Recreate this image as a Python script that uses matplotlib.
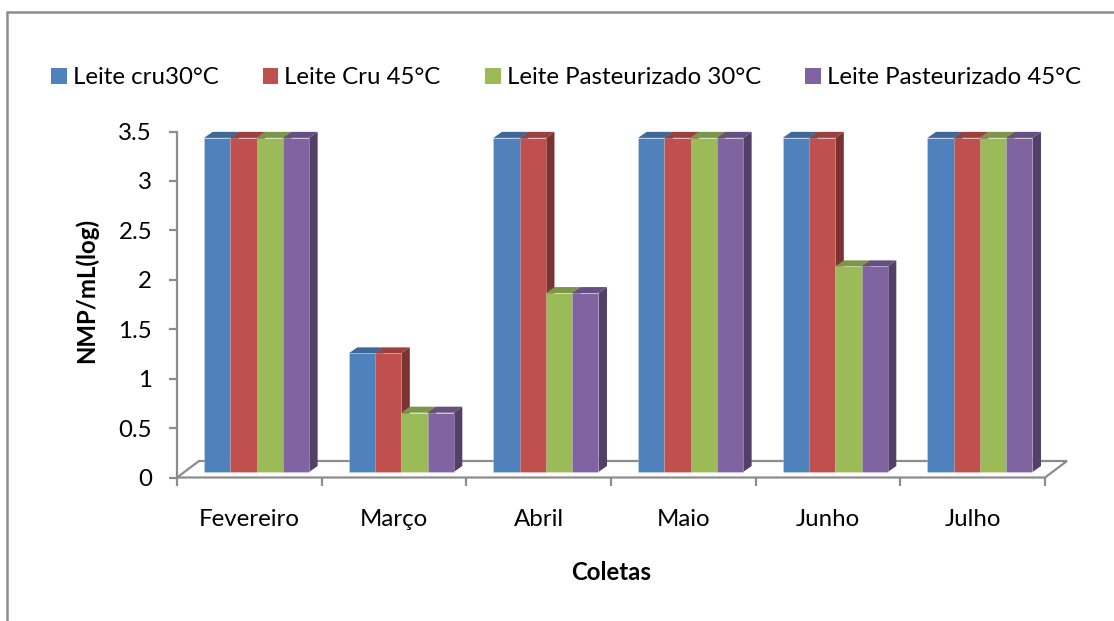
import matplotlib
matplotlib.use("Agg")
import matplotlib.pyplot as plt
from matplotlib.patches import Polygon, Rectangle, Patch
from matplotlib.ticker import FuncFormatter
import numpy as np

# ---- data ----
months = ["Fevereiro", "Março", "Abril", "Maio", "Junho", "Julho"]
series_names = ["Leite cru30°C", "Leite Cru 45°C",
                "Leite Pasteurizado 30°C", "Leite Pasteurizado 45°C"]
cru_30 = [3.38, 1.20, 3.38, 3.38, 3.38, 3.38]
cru_45 = [3.38, 1.20, 3.38, 3.38, 3.38, 3.38]
past_30 = [3.38, 0.60, 1.81, 3.38, 2.08, 3.38]
past_45 = [3.38, 0.60, 1.81, 3.38, 2.08, 3.38]
series = [cru_30, cru_45, past_30, past_45]
colors = ["#4F81BD", "#C0504D", "#9BBB59", "#8064A2"]
y_ticks = [0, 0.5, 1, 1.5, 2, 2.5, 3, 3.5]

plt.rcParams["font.family"] = ["Lato", "DejaVu Sans"]
FS = 17.3

W, H, DPI = 1114, 621, 100
fig = plt.figure(figsize=(W / DPI, H / DPI), dpi=DPI)
fig.patch.set_facecolor("white")

# plot area in pixels (front plane of the 3-D box)
x0_px, x1_px = 177, 1045
ytop_px, ybot_px = 131.5, 477.5
ax = fig.add_axes([x0_px / W, (H - ybot_px) / H,
                   (x1_px - x0_px) / W, (ybot_px - ytop_px) / H])
n = len(months)
ax.set_xlim(0, n)
ax.set_ylim(0, 3.5)

# pixel -> data conversion for the oblique depth offsets
ux = (x1_px - x0_px) / n
uy = (ybot_px - ytop_px) / 3.5
floor_dx, floor_dy = 22 / ux, 16.5 / uy       # full depth of the floor
front_dx, front_dy = 7.3 / ux, 5.5 / uy       # depth of the bars' front face
bar_dx, bar_dy = 8.5 / ux, 6.0 / uy           # thickness of each bar

gray = "#8C8C8C"
# floor outline
floor = Polygon([(0, 0), (n, 0), (n + floor_dx, floor_dy), (floor_dx, floor_dy)],
                closed=True, facecolor="none", edgecolor=gray, lw=1.6,
                clip_on=False, zorder=1)
ax.add_patch(floor)


def shade(c, f):
    r, g, b = matplotlib.colors.to_rgb(c)
    return (r * f, g * f, b * f)


group_w = 0.726
bw = group_w / len(series)
for i in range(n):
    left = i + (1 - group_w) / 2 + front_dx
    for k, vals in enumerate(series):
        v = vals[i]
        xl = left + k * bw
        xr = xl + bw
        b = front_dy
        z = 3 + k
        side = Polygon([(xr, b), (xr + bar_dx, b + bar_dy),
                        (xr + bar_dx, b + bar_dy + v), (xr, b + v)],
                       closed=True, facecolor=shade(colors[k], 0.64),
                       edgecolor="none", clip_on=False, zorder=z)
        top = Polygon([(xl, b + v), (xr, b + v),
                       (xr + bar_dx, b + v + bar_dy), (xl + bar_dx, b + v + bar_dy)],
                      closed=True, facecolor=shade(colors[k], 0.8),
                      edgecolor="none", clip_on=False, zorder=z)
        ax.add_patch(side)
        ax.add_patch(top)
        ax.bar(xl, v, width=bw, bottom=b, align="edge", color=colors[k],
               edgecolor=(1, 1, 1, 0.25), linewidth=0.6, zorder=z + 0.5,
               clip_on=False)

# axes styling
for s in ["top", "right", "bottom"]:
    ax.spines[s].set_visible(False)
ax.spines["left"].set_color(gray)
ax.spines["left"].set_linewidth(1.6)
ax.patch.set_alpha(0)

ax.set_yticks(y_ticks)
ax.yaxis.set_major_formatter(FuncFormatter(lambda v, p: f"{v:g}"))
ax.tick_params(axis="y", direction="out", length=6, width=1.6, color=gray,
               pad=12, labelsize=FS)

ax.set_xticks(np.arange(0, n + 1))
ax.set_xticklabels([])
ax.set_xticks(np.arange(n) + 0.5, minor=True)
ax.set_xticklabels(months, minor=True)
ax.tick_params(axis="x", which="major", direction="out", length=6, width=1.6,
               color=gray)
ax.tick_params(axis="x", which="minor", length=0, pad=23, labelsize=FS)

fig.text(611 / W, 1 - 573 / H, "Coletas", ha="center", va="center",
         fontsize=FS, fontweight="bold")
fig.text(86 / W, 1 - 290 / H, "NMP/mL(log)", ha="center", va="center",
         rotation=90, fontsize=FS, fontweight="bold")

handles = [Patch(facecolor=c, edgecolor="none") for c in colors]
fig.legend(handles, series_names, loc="center", ncol=4,
           bbox_to_anchor=(566 / W, 1 - 78 / H), frameon=False, fontsize=FS,
           handlelength=0.65, handleheight=0.65, handletextpad=0.25,
           columnspacing=1.85, borderaxespad=0)

# chart border
fig.patches.append(Rectangle((7 / W, -0.2), 1.2, 1 - 12 / H + 0.2,
                             transform=fig.transFigure, fill=False,
                             edgecolor="#8C8C8C", lw=1.8, zorder=0))

fig.savefig("out.png", dpi=DPI)
